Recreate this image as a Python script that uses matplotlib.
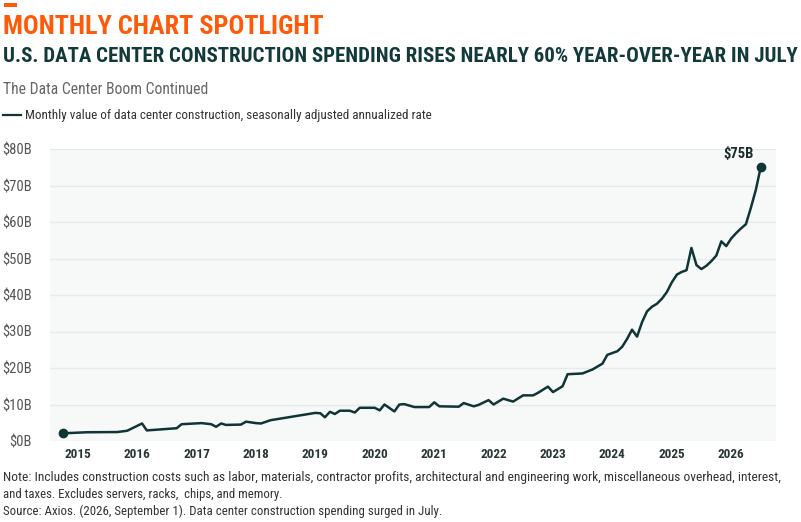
import matplotlib
matplotlib.use("Agg")
import matplotlib.pyplot as plt
import pandas as pd
from matplotlib import font_manager

# Monthly value of data center construction, SAAR, billions of dollars
months = [
    "2014-10", "2015-03", "2015-09", "2015-11", "2016-02", "2016-03", "2016-09", "2016-10",
    "2017-02", "2017-04", "2017-05", "2017-06", "2017-07", "2017-10", "2017-11", "2018-01",
    "2018-02", "2018-04", "2019-01", "2019-02", "2019-03", "2019-04", "2019-05", "2019-06",
    "2019-08", "2019-09", "2019-10", "2020-01", "2020-02", "2020-03", "2020-05", "2020-06",
    "2020-07", "2020-09", "2020-12", "2021-01", "2021-02", "2021-06", "2021-07", "2021-09",
    "2021-10", "2021-12", "2022-01", "2022-03", "2022-05", "2022-07", "2022-09", "2022-10",
    "2022-12", "2023-01", "2023-03", "2023-04", "2023-07", "2023-09", "2023-11", "2023-12",
    "2024-02", "2024-03", "2024-04", "2024-05", "2024-06", "2024-07", "2024-08", "2024-09",
    "2024-10", "2024-11", "2024-12", "2025-01", "2025-02", "2025-03", "2025-04", "2025-05",
    "2025-06", "2025-07", "2025-08", "2025-09", "2025-10", "2025-11", "2025-12", "2026-01",
    "2026-02", "2026-03", "2026-04", "2026-05", "2026-06", "2026-07",
]
values = [
    2.1, 2.4, 2.45, 2.8, 4.8, 2.9, 3.5, 4.6,
    4.9, 4.6, 3.9, 4.8, 4.4, 4.5, 5.3, 4.9,
    4.8, 5.7, 7.7, 7.6, 6.5, 8.0, 7.4, 8.3,
    8.3, 7.8, 9.1, 9.1, 8.4, 10.0, 8.1, 10.0,
    10.1, 9.3, 9.3, 10.6, 9.5, 9.4, 10.4, 9.5,
    9.9, 11.2, 10.0, 11.6, 10.8, 12.5, 12.5, 13.2,
    14.9, 13.4, 15.0, 18.3, 18.5, 19.6, 21.2, 23.6,
    24.6, 25.8, 28.0, 30.5, 28.6, 32.5, 35.5, 36.8,
    37.6, 39.0, 40.8, 43.5, 45.6, 46.3, 46.8, 52.9,
    48.2, 47.1, 48.0, 49.3, 50.8, 54.7, 53.4, 55.5,
    57.0, 58.2, 59.4, 63.8, 68.8, 75.0,
]
year_ticks = list(range(2015, 2027))
y_ticks = [0, 10, 20, 30, 40, 50, 60, 70, 80]
peak_label = "$75B"

avail = {f.name for f in font_manager.fontManager.ttflist}


def pick(*names):
    for n in names:
        if n in avail:
            return n
    return "DejaVu Sans"


cond = pick("Roboto Condensed", "Liberation Sans Narrow", "Open Sans Condensed", "Roboto")
plt.rcParams["font.family"] = [cond, "DejaVu Sans"]

W, H = 801, 522
fig = plt.figure(figsize=(W / 100, H / 100), dpi=100)
fig.patch.set_facecolor("white")

dates = pd.to_datetime(months)

# plot area in pixels: x 50..776, y 149..441
ax = fig.add_axes([50 / W, 1 - 441 / H, 726 / W, 292 / H])
ax.set_facecolor("#f7f9f9")
ax.plot(dates, values, color="#0f3536", lw=1.8, solid_joinstyle="round", zorder=3)
ax.plot([dates[0], dates[-1]], [values[0], values[-1]], "o", color="#0f3536", ms=6, zorder=4)
ax.annotate(peak_label, xy=(dates[-1], values[-1]), xytext=(-16, 9.5), textcoords="offset points",
            ha="center", va="center", fontsize=10.5, fontweight="bold", color="#1c2b2b")

ax.set_ylim(0, 80)
ax.set_xlim(pd.Timestamp("2014-07-15"), pd.Timestamp("2026-10-03"))
ax.set_yticks(y_ticks)
ax.set_yticklabels([f"${v}B" for v in y_ticks])
ax.set_xticks([pd.Timestamp(f"{y}-01-01") for y in year_ticks])
ax.set_xticklabels([str(y) for y in year_ticks])
ax.grid(axis="y", color="#e6eaea", lw=1)
ax.grid(axis="x", visible=False)
ax.set_axisbelow(True)
for s in ax.spines.values():
    s.set_visible(False)
ax.tick_params(axis="both", length=0)
ax.tick_params(axis="y", pad=13, labelsize=10.5, labelcolor="#555555")
ax.tick_params(axis="x", pad=5, labelsize=9.5, labelcolor="#2a3636")
for lbl in ax.get_xticklabels():
    lbl.set_fontweight("bold")


def px(x, y):
    return x / W, 1 - y / H


# orange accent bar
fig.patches.append(plt.Rectangle(px(4, 7), 13 / W, 4 / H, transform=fig.transFigure,
                                 color="#ff5a0a", lw=0))

texts = []
t = fig.text(*px(3, 34), "MONTHLY CHART SPOTLIGHT", fontsize=18, fontweight="bold",
             color="#ff5a0a", va="baseline")
texts.append((t, 322))
t = fig.text(*px(3, 62), "U.S. DATA CENTER CONSTRUCTION SPENDING RISES NEARLY 60% YEAR-OVER-YEAR IN JULY",
             fontsize=15, fontweight="bold", color="#123a3a", va="baseline")
texts.append((t, 794))
t = fig.text(*px(3, 94), "The Data Center Boom Continued", fontsize=12, color="#666666", va="baseline")
texts.append((t, 205))
fig.add_artist(plt.Line2D([3 / W, 21 / W], [1 - 115 / H] * 2, color="#0f3536", lw=1.6,
                          transform=fig.transFigure))
t = fig.text(*px(25, 119), "Monthly value of data center construction, seasonally adjusted annualized rate",
             fontsize=10, color="#333333", va="baseline")
texts.append((t, 406))
t = fig.text(*px(3, 481), "Note: Includes construction costs such as labor, materials, contractor profits, "
             "architectural and engineering work, miscellaneous overhead, interest,",
             fontsize=9.5, color="#333333", va="baseline")
texts.append((t, 779))
t = fig.text(*px(3, 498), "and taxes. Excludes servers, racks,  chips, and memory.",
             fontsize=9.5, color="#333333", va="baseline")
texts.append((t, 280))
t = fig.text(*px(3, 515), "Source: Axios. (2026, September 1). Data center construction spending surged in July.",
             fontsize=9.5, color="#333333", va="baseline")
texts.append((t, 438))

# fit text widths to the reference layout
fig.canvas.draw()
r = fig.canvas.get_renderer()
for t, w in texts:
    bw = t.get_window_extent(r).width
    t.set_fontsize(t.get_fontsize() * w / bw)

fig.savefig("out.png", dpi=100, facecolor="white")
